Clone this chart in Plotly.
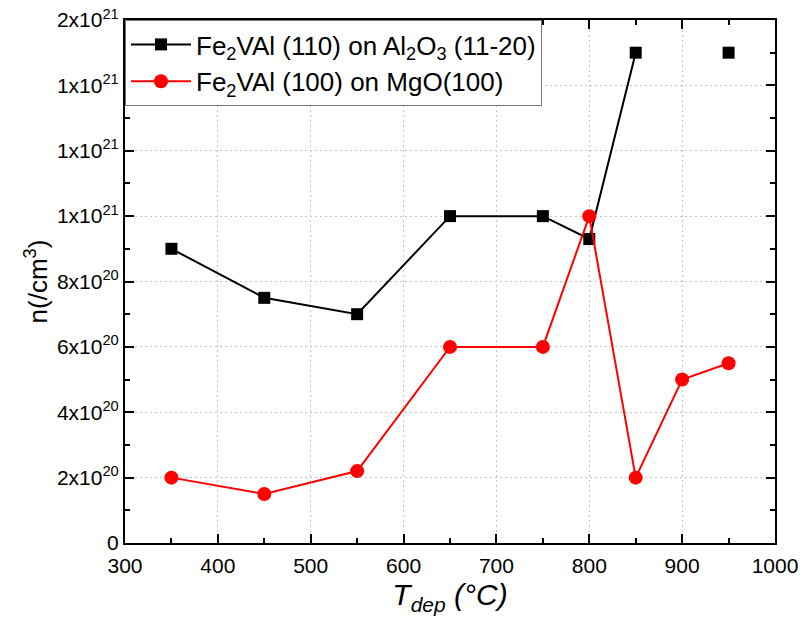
import plotly.graph_objects as go

t_black = [350, 450, 550, 650, 750, 800, 850, 900, 950]
n_black = [9.0e20, 7.5e20, 7.0e20, 1.0e21, 1.0e21, 9.3e20, 1.5e21, None, 1.5e21]

t_red = [350, 450, 550, 650, 750, 800, 850, 900, 950]
n_red = [2.0e20, 1.5e20, 2.2e20, 6.0e20, 6.0e20, 1.0e21, 2.0e20, 5.0e20, 5.5e20]

y_tickvals = [0, 2e20, 4e20, 6e20, 8e20, 1.0e21, 1.2e21, 1.4e21, 1.6e21]
y_ticktext = ["0", "2x10<sup>20</sup>", "4x10<sup>20</sup>", "6x10<sup>20</sup>",
              "8x10<sup>20</sup>", "1x10<sup>21</sup>", "1x10<sup>21</sup>",
              "1x10<sup>21</sup>", "2x10<sup>21</sup>"]
x_tickvals = [300, 400, 500, 600, 700, 800, 900, 1000]

label_black = "Fe<sub>2</sub>VAl (110) on Al<sub>2</sub>O<sub>3</sub> (11-20)"
label_red = "Fe<sub>2</sub>VAl (100) on MgO(100)"

font = "Liberation Sans, Arial, sans-serif"

fig = go.Figure()
fig.add_trace(go.Scatter(x=t_black, y=n_black, mode="lines+markers", name=label_black,
                         connectgaps=False,
                         line=dict(color="black", width=2),
                         marker=dict(symbol="square", size=12, color="black")))
fig.add_trace(go.Scatter(x=t_red, y=n_red, mode="lines+markers", name=label_red,
                         line=dict(color="#ff0000", width=2),
                         marker=dict(symbol="circle", size=14, color="#ff0000")))

axis_common = dict(
    showline=True, linecolor="black", linewidth=2, mirror="ticks",
    ticks="inside", ticklen=9, tickwidth=2, tickcolor="black",
    showgrid=True, gridcolor="#c4c4c4", griddash="2px,3px", gridwidth=1,
    zeroline=False, ticklabeloverflow="allow", automargin=False,
    tickfont=dict(family=font, size=21, color="black"),
)

fig.update_xaxes(range=[300, 1000], tickvals=x_tickvals, ticklabelstandoff=3,
                 minor=dict(ticks="inside", dtick=50, ticklen=5, tickwidth=2, tickcolor="black", showgrid=False),
                 title=dict(text="<i>T<sub>dep</sub> (°C)</i>", font=dict(family=font, size=30, color="black"), standoff=8),
                 **axis_common)
fig.update_yaxes(range=[0, 1.6e21], tickvals=y_tickvals, ticktext=y_ticktext,
                 minor=dict(ticks="inside", dtick=1e20, ticklen=5, tickwidth=2, tickcolor="black", showgrid=False),
                 title=dict(text="n(/cm<sup>3</sup>)", font=dict(family=font, size=26, color="black"), standoff=2),
                 **axis_common)

fig.update_layout(
    width=803, height=634,
    margin=dict(l=125, r=28, t=20, b=91),
    plot_bgcolor="white", paper_bgcolor="white",
    font=dict(family=font, color="black"),
    legend=dict(x=0, y=1, xanchor="left", yanchor="top",
                bgcolor="white", bordercolor="#777777", borderwidth=1,
                font=dict(family=font, size=26, color="black"),
                itemwidth=60, tracegroupgap=0),
)

fig.write_html("out.html", config={"displayModeBar": False},
               post_script="document.body.style.margin='0px';document.body.style.overflow='hidden';")
